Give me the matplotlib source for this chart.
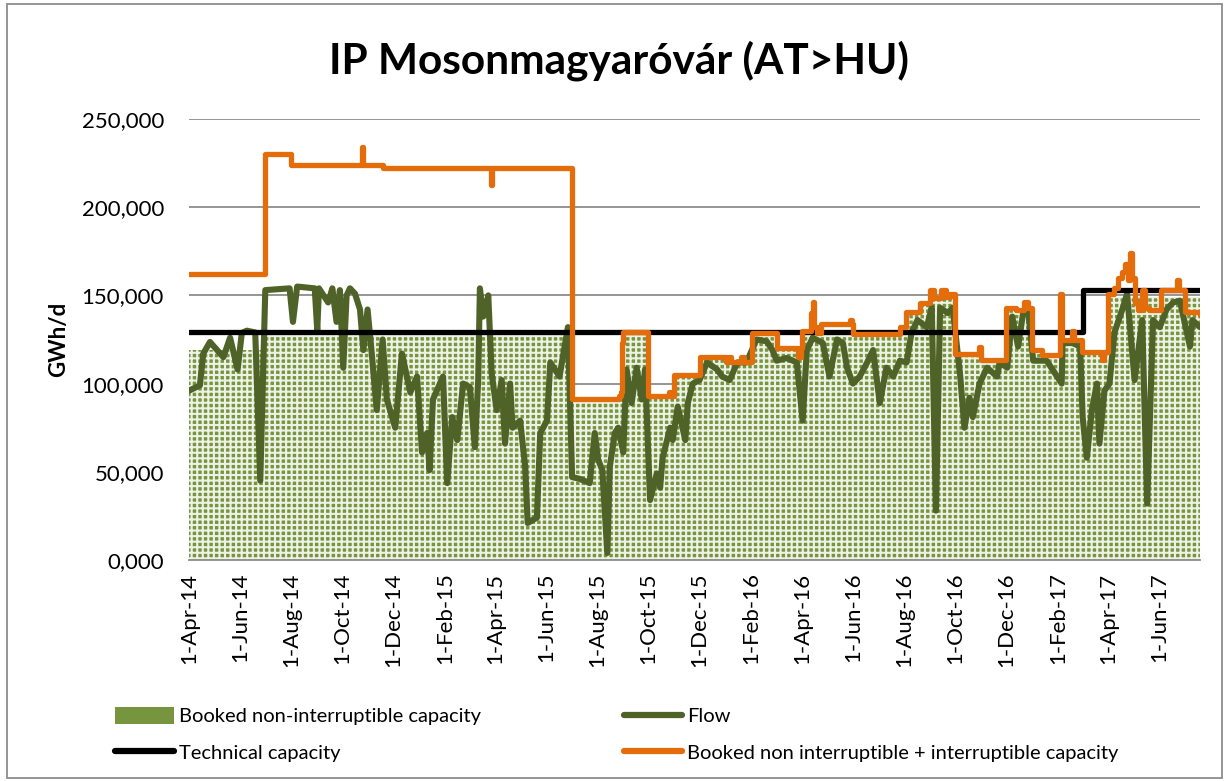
import matplotlib
matplotlib.use("Agg")
import matplotlib.pyplot as plt
import matplotlib.dates as mdates
import pandas as pd
from matplotlib.patches import Patch, Rectangle
from matplotlib.lines import Line2D

plt.rcParams['font.family'] = ['Lato', 'DejaVu Sans']
plt.rcParams['hatch.linewidth'] = 1.5
plt.rcParams['hatch.color'] = '#eef2e6'

# ---------------- data ----------------
x_start = '2014-04-01'
x_end = '2017-07-20'

tick_dates = pd.date_range('2014-04-01', '2017-06-01', freq='2MS')

tech_dates = ['2014-04-01', '2017-03-02', '2017-07-20']
tech_vals = [129000, 153000, 153000]

orange_dates = ['2014-04-01', '2014-07-01', '2014-08-01', '2014-10-24', '2014-10-26',
                '2014-11-18', '2015-03-27', '2015-03-29', '2015-07-02', '2015-08-27',
                '2015-08-29', '2015-08-31', '2015-09-01', '2015-10-01', '2015-10-25',
                '2015-10-27', '2015-11-01', '2015-12-01', '2016-01-01', '2016-01-05',
                '2016-01-08', '2016-01-20', '2016-01-23', '2016-02-01', '2016-03-02',
                '2016-03-28', '2016-03-31', '2016-04-01', '2016-04-12', '2016-04-14',
                '2016-04-16', '2016-04-19', '2016-04-24', '2016-05-29', '2016-05-31',
                '2016-06-01', '2016-07-27', '2016-08-03', '2016-08-20', '2016-09-01',
                '2016-09-06', '2016-09-14', '2016-09-20', '2016-09-25', '2016-10-01',
                '2016-10-29', '2016-11-01', '2016-12-01', '2016-12-12', '2016-12-22',
                '2016-12-27', '2017-01-01', '2017-01-13', '2017-02-03', '2017-02-05',
                '2017-02-17', '2017-02-20', '2017-03-01', '2017-03-25', '2017-03-28',
                '2017-04-01', '2017-04-08', '2017-04-13', '2017-04-18', '2017-04-22',
                '2017-04-25', '2017-04-28', '2017-04-30', '2017-05-03', '2017-05-07',
                '2017-05-12', '2017-05-15', '2017-05-20', '2017-06-04', '2017-06-22',
                '2017-06-25', '2017-07-02', '2017-07-20']
orange_vals = [162000, 230000, 224000, 234000, 224000,
               222500, 212500, 222500, 91000, 93000,
               95000, 123000, 129000, 93000, 95500,
               93000, 105000, 115000, 112000, 115000,
               112000, 115000, 112000, 128700, 120000,
               115000, 120000, 130000, 140000, 146000,
               132000, 128700, 134000, 136000, 134000,
               128000, 132000, 140600, 145700, 153000,
               148600, 153000, 149000, 151000, 117000,
               121000, 113400, 142900, 141500, 146000,
               143000, 119000, 116000, 151000, 124700,
               130000, 124700, 118000, 113400, 118000,
               151000, 154000, 160000, 163000, 168000,
               158700, 174000, 160000, 145700, 141800,
               153000, 143000, 141800, 153000, 158700,
               153000, 140600, 139000]

area_dates = ['2014-04-01', '2014-07-01', '2015-07-02', '2015-09-01', '2015-10-01',
              '2015-11-01', '2015-12-01', '2016-01-01', '2016-02-01', '2016-03-02',
              '2016-04-01', '2016-06-01', '2016-07-27', '2016-08-03', '2016-08-20',
              '2016-09-01', '2016-10-01', '2016-11-01', '2016-12-01', '2017-01-01',
              '2017-02-05', '2017-03-01', '2017-04-01', '2017-07-20']
area_vals = [119000, 128000, 91000, 128000, 93000,
             104000, 114000, 111000, 127000, 119000,
             128000, 127000, 131000, 139000, 144000,
             148000, 116000, 112000, 141000, 117000,
             123000, 117000, 149000, 149000]

flow_dates = ['2014-04-01', '2014-04-14', '2014-04-18', '2014-04-26', '2014-05-12',
              '2014-05-20', '2014-05-29', '2014-06-03', '2014-06-09', '2014-06-19',
              '2014-06-25', '2014-07-01', '2014-07-30', '2014-08-03', '2014-08-08',
              '2014-08-29', '2014-09-01', '2014-09-03', '2014-09-14', '2014-09-19',
              '2014-09-24', '2014-09-28', '2014-10-02', '2014-10-06', '2014-10-10',
              '2014-10-16', '2014-10-22', '2014-10-26', '2014-10-31', '2014-11-05',
              '2014-11-11', '2014-11-18', '2014-11-23', '2014-12-03', '2014-12-11',
              '2014-12-21', '2014-12-29', '2015-01-04', '2015-01-10', '2015-01-13',
              '2015-01-17', '2015-01-29', '2015-02-03', '2015-02-09', '2015-02-15',
              '2015-02-22', '2015-03-02', '2015-03-08', '2015-03-12', '2015-03-14',
              '2015-03-18', '2015-03-24', '2015-03-28', '2015-04-03', '2015-04-09',
              '2015-04-13', '2015-04-19', '2015-04-22', '2015-05-01', '2015-05-07',
              '2015-05-10', '2015-05-21', '2015-05-25', '2015-06-02', '2015-06-06',
              '2015-06-17', '2015-06-27', '2015-07-02', '2015-07-11', '2015-07-23',
              '2015-07-29', '2015-08-02', '2015-08-07', '2015-08-13', '2015-08-16',
              '2015-08-22', '2015-08-26', '2015-09-01', '2015-09-05', '2015-09-11',
              '2015-09-17', '2015-09-23', '2015-09-27', '2015-10-03', '2015-10-11',
              '2015-10-15', '2015-10-18', '2015-10-27', '2015-10-30', '2015-11-05',
              '2015-11-14', '2015-11-17', '2015-11-23', '2015-12-01', '2015-12-10',
              '2015-12-22', '2015-12-28', '2016-01-06', '2016-01-15', '2016-01-26',
              '2016-02-07', '2016-02-19', '2016-02-26', '2016-03-02', '2016-03-14',
              '2016-03-26', '2016-04-02', '2016-04-07', '2016-04-14', '2016-04-26',
              '2016-05-04', '2016-05-13', '2016-05-20', '2016-05-25', '2016-06-01',
              '2016-06-09', '2016-06-18', '2016-06-25', '2016-07-03', '2016-07-11',
              '2016-07-19', '2016-07-27', '2016-08-04', '2016-08-10', '2016-08-17',
              '2016-08-28', '2016-09-03', '2016-09-08', '2016-09-13', '2016-09-22',
              '2016-09-28', '2016-10-07', '2016-10-12', '2016-10-18', '2016-10-22',
              '2016-10-30', '2016-11-08', '2016-11-20', '2016-11-23', '2016-12-02',
              '2016-12-08', '2016-12-15', '2016-12-21', '2016-12-27', '2017-01-02',
              '2017-01-18', '2017-01-25', '2017-02-05', '2017-02-06', '2017-02-18',
              '2017-02-27', '2017-03-02', '2017-03-07', '2017-03-13', '2017-03-19',
              '2017-03-22', '2017-03-28', '2017-04-03', '2017-04-09', '2017-04-19',
              '2017-04-24', '2017-05-03', '2017-05-12', '2017-05-18', '2017-05-25',
              '2017-06-02', '2017-06-10', '2017-06-18', '2017-06-26', '2017-07-08',
              '2017-07-11', '2017-07-20']
flow_vals = [96000, 99000, 117000, 123600, 115000,
             126000, 108000, 128700, 130000, 129000,
             45000, 153000, 154000, 135000, 155000,
             154000, 130000, 154000, 146000, 154000,
             135000, 153000, 109000, 150000, 154000,
             151000, 142000, 119000, 142000, 117000,
             85000, 125000, 91000, 75000, 117000,
             95000, 104000, 61000, 72000, 51000,
             91000, 104000, 43600, 81000, 68000,
             100000, 98000, 64000, 102000, 154000,
             138000, 150000, 106000, 85000, 102000,
             66000, 100000, 75000, 79000, 53000,
             21000, 24000, 72000, 79000, 112000,
             104000, 132000, 47000, 46000, 43600,
             72000, 57000, 51000, 4000, 53000,
             72000, 75000, 61000, 108000, 89000,
             109000, 91000, 108000, 34000, 49000,
             41000, 58000, 75000, 68000, 87000,
             68000, 89000, 100000, 102000, 112000,
             108000, 104000, 102000, 112000, 112000,
             125000, 124000, 119000, 113000, 114500,
             112000, 79000, 119000, 126000, 123000,
             104000, 125000, 123000, 109000, 100000,
             104000, 112000, 119000, 89000, 109000,
             104000, 113000, 112000, 129000, 136000,
             132000, 143000, 28000, 143000, 140000,
             143000, 104000, 75000, 92000, 81000,
             100000, 109000, 104000, 112000, 109000,
             138000, 121000, 140000, 142000, 113000,
             113000, 108000, 100000, 123000, 123000,
             121000, 81000, 58000, 85000, 100000,
             66000, 96000, 100000, 129000, 143000,
             151000, 102000, 136000, 32000, 136000,
             132000, 142000, 146000, 147000, 121000,
             136000, 132000]

labels = ['Booked non-interruptible capacity', 'Technical capacity',
          'Flow', 'Booked non interruptible + interruptible capacity']

# ---------------- colours ----------------
c_area = '#77953f'
c_flow = '#4f6228'
c_tech = '#000000'
c_orange = '#e46c0a'

# ---------------- figure ----------------
W, H = 1226, 781
fig = plt.figure(figsize=(W / 100, H / 100), dpi=100)
ax = fig.add_axes([189 / W, 1 - 560 / H, (1200 - 189) / W, (560 - 119) / H])

ad = pd.to_datetime(area_dates)
ax.fill_between(ad, 0, area_vals, step='post', facecolor=c_area,
                hatch='+++', edgecolor='none', linewidth=0, zorder=1)
ax.plot(pd.to_datetime(flow_dates), flow_vals, color=c_flow, lw=4.4,
        solid_joinstyle='round', solid_capstyle='round', zorder=3)
ax.plot(pd.to_datetime(tech_dates), tech_vals, color=c_tech, lw=3.8,
        drawstyle='steps-post', solid_capstyle='round', zorder=4)
ax.plot(pd.to_datetime(orange_dates), orange_vals, color=c_orange, lw=3.8,
        drawstyle='steps-post', solid_joinstyle='round', solid_capstyle='round', zorder=5)

ax.set_xlim(pd.Timestamp(x_start), pd.Timestamp(x_end))
ax.set_ylim(0, 250000)
ax.set_yticks(range(0, 250001, 50000))
ax.set_yticklabels([f"{v / 1000:.3f}".replace('.', ',') for v in range(0, 250001, 50000)])
ax.set_xticks(tick_dates)
ax.set_xticklabels([f"{d.day}-{d.strftime('%b')}-{d.strftime('%y')}" for d in tick_dates],
                   rotation=90)
ax.tick_params(axis='both', length=0, labelsize=16, colors='black')
ax.tick_params(axis='y', pad=18)
ax.tick_params(axis='x', pad=9)
ax.grid(axis='y', color='#8c8c8c', lw=1.3, zorder=0)
ax.set_axisbelow(True)
for s in ['top', 'right', 'left']:
    ax.spines[s].set_visible(False)
ax.spines['bottom'].set_color('#8c8c8c')
ax.spines['bottom'].set_linewidth(1.3)
ax.spines['bottom'].set_zorder(6)

ax.set_ylabel('GWh/d', fontsize=16, fontweight='bold', labelpad=9)

fig.text(619 / W, 1 - 61 / H, 'IP Mosonmagyaróvár (AT>HU)', ha='center', va='center',
         fontsize=30.5, fontweight='bold')

handles = [Patch(facecolor=c_area, hatch='+++', edgecolor='none'),
           Line2D([], [], color=c_tech, lw=4.5, solid_capstyle='round'),
           Line2D([], [], color=c_flow, lw=4.5, solid_capstyle='round'),
           Line2D([], [], color=c_orange, lw=4.5, solid_capstyle='round')]
leg = fig.legend(handles, labels, ncol=2, loc='upper left',
                 bbox_to_anchor=(97 / W, 1 - 689 / H), frameon=False,
                 fontsize=14.5, handlelength=2.9, handleheight=0.9,
                 handletextpad=0.25, columnspacing=7.1, labelspacing=0.9)

fig.patches.append(Rectangle((7 / W, 3 / H), (1222 - 7) / W, (777 - 3) / H,
                             transform=fig.transFigure, fill=False,
                             edgecolor='#8c8c8c', lw=1.3))

fig.savefig('out.png', dpi=100)
